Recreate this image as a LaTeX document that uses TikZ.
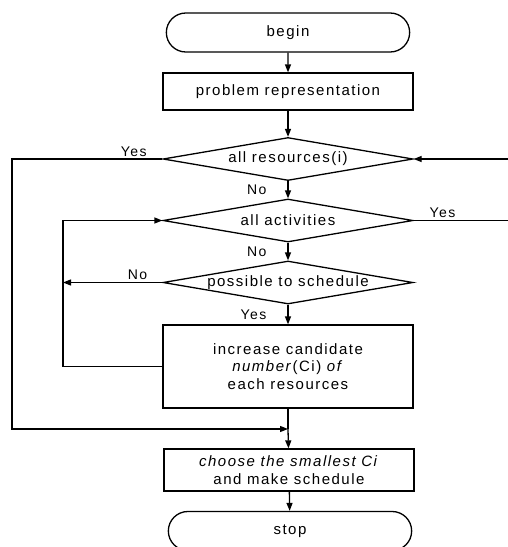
\documentclass[tikz,border=0pt]{standalone}
\usepackage{fontspec}
\setmainfont{Liberation Sans}[LetterSpace=10]
\usetikzlibrary{shapes.geometric,shapes.misc,arrows.meta}

\begin{document}
\begin{tikzpicture}[
	x=1pt, y=-1pt,
	line width=1.3pt,
	every node/.style={font=\fontsize{15}{17.5}\selectfont},
	terminal/.style  = {rounded rectangle, draw, minimum width=250pt, minimum height=39pt},
	process/.style   = {rectangle, draw, minimum width=250pt, align=center, inner sep=2pt},
	decision/.style  = {diamond, draw, aspect=5.7, inner sep=0pt, minimum width=250pt, minimum height=43pt},
	answer/.style    = {font=\fontsize{14}{16}\selectfont, inner sep=2pt},
	flow/.style      = {-{Triangle[length=8pt,width=6pt]}}
	]
	
	\useasboundingbox (0,0) rectangle (507,547);
	
	% ===================== Main column =====================
	\node[terminal] (begin) at (288,32.5) {begin};
	\node[process, minimum height=37pt] (repr) at (288,91.5) {problem representation};
	\node[decision] (res)  at (288,159) {all resources(i)};
	\node[decision] (act)  at (288,220.5) {all activities};
	\node[decision] (poss) at (288,282.5) {possible to schedule};
	\node[process, minimum height=83pt] (incr) at (288,366.5)
		{increase candidate\\\textit{number}(Ci) \textit{of}\\each resources};
	\node[process, minimum height=42pt] (choose) at (289,470)
		{\textit{choose the smallest Ci}\\and make schedule};
	\node[terminal] (stop) at (290,531) {stop};
	
	% ===================== Turning points =====================
	\coordinate (join)  at (288,429);
	\coordinate (yesL)  at (12,159);
	\coordinate (yesLb) at (12,429);
	\coordinate (actR)  at (510,220.5);
	\coordinate (resR)  at (510,159);
	\coordinate (possL) at (63,282.5);
	\coordinate (loopB) at (63,366.5);
	\coordinate (loopT) at (63,220.5);
	
	% ===================== Connectors =====================
	\draw[flow] (begin) -- (repr);
	\draw[flow] (repr) -- (res);
	\draw[flow] (res) -- node[answer, left, xshift=-19pt] {No} (act);
	\draw[flow] (act) -- node[answer, left, xshift=-19pt] {No} (poss);
	\draw[flow] (poss) -- node[answer, left, xshift=-19pt] {Yes} (incr);
	\draw (incr) -- (join);
	\draw[flow] (join) -- (choose);
	\draw[flow] (choose) -- (stop);
	
	\draw[flow] (res.west) -- node[answer, above, pos=0.19] {Yes} (yesL) -- (yesLb) -- (join);
	\draw[flow] (act.east) -- node[answer, above, pos=0.3] {Yes} (actR) -- (resR) -- (res.east);
	\draw[flow] (poss.west) -- node[answer, above, pos=0.25] {No} (possL);
	\draw[flow] (incr.west) -- (loopB) -- (loopT) -- (act.west);
	
\end{tikzpicture}
\end{document}
